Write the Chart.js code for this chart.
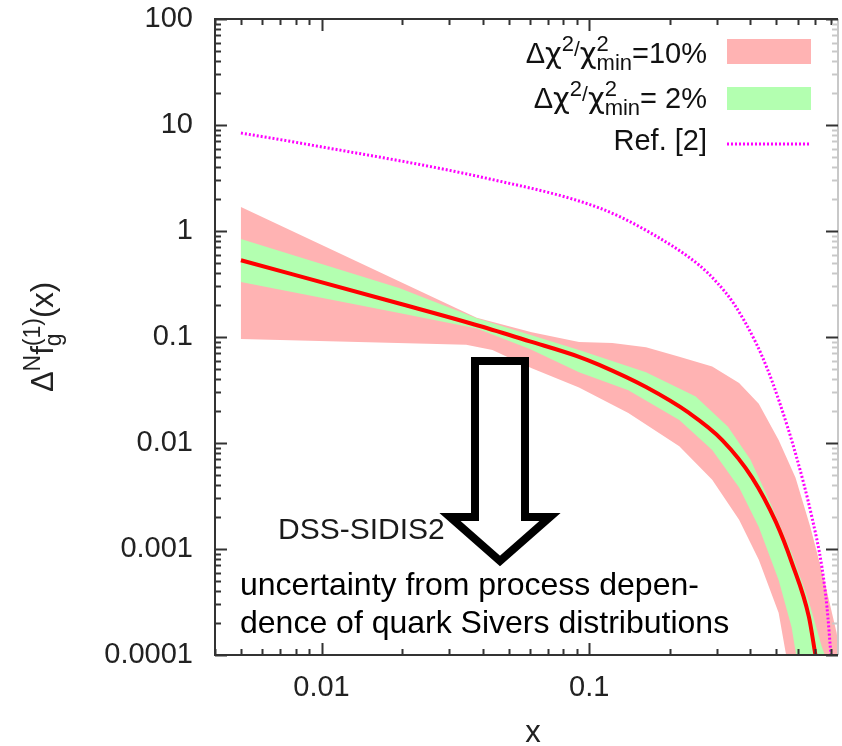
<!DOCTYPE html>
<html>
<head>
<meta charset="utf-8">
<script src="https://cdn.jsdelivr.net/npm/chart.js@4.4.0/dist/chart.umd.min.js"></script>
<style>
  html, body { margin: 0; padding: 0; background: #fff; }
  #wrap { width: 842px; height: 746px; }
</style>
</head>
<body>
<div id="wrap"><canvas id="grafico" width="842" height="746"></canvas></div>
<script>
// ---- Dados ----
// curva central (linha vermelha)
const xCentral = [0.005, 0.0195, 0.039, 0.06, 0.0916, 0.109, 0.163, 0.236, 0.314, 0.406, 0.498, 0.572, 0.662, 0.70];
const yCentral = [0.53, 0.207, 0.127, 0.091, 0.065, 0.0545, 0.0337, 0.0192, 0.01066, 0.00472, 0.0018, 0.000738, 0.000228, 0.0001];

// banda 2% (verde)
const xVerdeSup = [0.005, 0.0195, 0.038, 0.06, 0.0916, 0.163, 0.25, 0.33, 0.4, 0.47, 0.57, 0.66, 0.74, 0.77];
const yVerdeSup = [0.84, 0.29, 0.15, 0.105, 0.0755, 0.0465, 0.0274, 0.0142, 0.007, 0.0029, 0.00092, 0.000327, 0.000119, 0.00009];
const xVerdeInf = [0.005, 0.0195, 0.038, 0.06, 0.0916, 0.14, 0.217, 0.288, 0.363, 0.43, 0.51, 0.57, 0.597];
const yVerdeInf = [0.33, 0.168, 0.12, 0.077, 0.0465, 0.0315, 0.0165, 0.0086, 0.0038, 0.00161, 0.00051, 0.000184, 0.00009];

// banda 10% (rosa)
const xRosaSup = [0.005, 0.038, 0.061, 0.0916, 0.122, 0.163, 0.217, 0.288, 0.363, 0.43, 0.51, 0.59, 0.67, 0.76, 0.84, 0.87];
const yRosaSup = [1.68, 0.152, 0.111, 0.0897, 0.0877, 0.08, 0.065, 0.0527, 0.0368, 0.0235, 0.0107, 0.0047, 0.00161, 0.000475, 0.000162, 0.00009];
const xRosaInf = [0.005, 0.0347, 0.0435, 0.061, 0.0916, 0.14, 0.217, 0.288, 0.363, 0.43, 0.51, 0.548];
const yRosaInf = [0.0957, 0.0845, 0.0755, 0.0508, 0.0333, 0.0192, 0.0093, 0.0045, 0.00189, 0.00079, 0.00025, 0.00009];

// Ref. [2] (magenta pontilhado)
const xRef = [0.005, 0.0083, 0.0424, 0.109, 0.167, 0.257, 0.300, 0.3475, 0.42, 0.4615, 0.512, 0.592, 0.679, 0.74, 0.773, 0.80];
const yRef = [8.4, 6.76, 3.1, 1.65, 0.98, 0.478, 0.327, 0.205, 0.0877, 0.051, 0.0249, 0.0077, 0.002, 0.000676, 0.000284, 0.0001];

// eixos
const valoresX = [0.01, 0.1];
const rotulosX = ['0.01', '0.1'];
const valoresY = [0.0001, 0.001, 0.01, 0.1, 1, 10, 100];
const rotulosY = ['0.0001', '0.001', '0.01', '0.1', '1', '10', '100'];

const FAMILIA = "'Liberation Sans', Arial, Helvetica, sans-serif";
const GREGO = "'DejaVu Sans', 'Liberation Sans', sans-serif";
const fonte = (s, fam) => s + 'px ' + (fam || FAMILIA);

function pontos(xs, ys) {
  return xs.map((x, i) => ({ x: x, y: ys[i] }));
}
// contorno fechado: limite superior e depois o inferior ao contrário
function contorno(xs1, ys1, xs2, ys2) {
  return pontos(xs1, ys1).concat(pontos(xs2, ys2).reverse());
}

// texto com sobrescritos / subscritos
function larguraRuns(ctx, runs) {
  let w = 0;
  runs.forEach(r => {
    ctx.font = fonte(r.s, r.f);
    if (r.pilha) w += Math.max(ctx.measureText(r.sup).width, ctx.measureText(r.sub).width);
    else w += ctx.measureText(r.t).width;
  });
  return w;
}
function desenhaRuns(ctx, runs, x, y) {
  runs.forEach(r => {
    ctx.font = fonte(r.s, r.f);
    if (r.pilha) {
      ctx.fillText(r.sup, x, y + r.dySup);
      ctx.fillText(r.sub, x, y + r.dySub);
      x += Math.max(ctx.measureText(r.sup).width, ctx.measureText(r.sub).width);
    } else {
      ctx.fillText(r.t, x, y + (r.dy || 0));
      x += ctx.measureText(r.t).width;
    }
  });
}

function legendaChi(pct) {
  return [
    { t: 'Δ', s: 29 },
    { t: 'χ', s: 29, f: GREGO },
    { t: '2', s: 22, dy: -12 },
    { t: '/', s: 21, dy: -7 },
    { t: 'χ', s: 29, f: GREGO },
    { pilha: true, sup: '2', sub: 'min', s: 22, dySup: -12, dySub: 7 },
    { t: pct, s: 29 }
  ];
}

// ---- Plugin: moldura, marcas, legenda, anotações ----
const decoracoes = {
  id: 'decoracoes',
  afterDraw(chart) {
    const ctx = chart.ctx;
    const a = chart.chartArea;
    const sx = chart.scales.x, sy = chart.scales.y;
    ctx.save();

    // seta (anotação)
    ctx.lineWidth = 8;
    ctx.lineJoin = 'miter';
    ctx.strokeStyle = '#000';
    ctx.fillStyle = '#fff';
    const cx = 500, topo = 361, ombro = 517, ponta = 561;
    ctx.beginPath();
    ctx.moveTo(cx - 25, topo);
    ctx.lineTo(cx + 25, topo);
    ctx.lineTo(cx + 25, ombro);
    ctx.lineTo(cx + 50, ombro);
    ctx.lineTo(cx, ponta);
    ctx.lineTo(cx - 50, ombro);
    ctx.lineTo(cx - 25, ombro);
    ctx.closePath();
    ctx.fill();
    ctx.stroke();

    // textos da anotação
    ctx.fillStyle = '#1a1a1a';
    ctx.textAlign = 'left';
    ctx.textBaseline = 'alphabetic';
    ctx.font = fonte(30);
    ctx.fillText('DSS-SIDIS2', 278, 539);
    ctx.fillStyle = '#000';
    ctx.font = fonte(32);
    ctx.fillText('uncertainty from process depen-', 240, 595);
    ctx.fillText('dence of quark Sivers distributions', 240, 633);

    // moldura
    ctx.lineWidth = 2;
    ctx.strokeStyle = '#c8c8c8';
    ctx.beginPath();
    ctx.moveTo(a.right, a.top); ctx.lineTo(a.right, a.bottom);
    ctx.stroke();
    ctx.strokeStyle = '#333';
    ctx.beginPath();
    ctx.moveTo(a.right, a.top); ctx.lineTo(a.left, a.top);
    ctx.lineTo(a.left, a.bottom); ctx.lineTo(a.right, a.bottom);
    ctx.stroke();

    // marcas (dentro da moldura)
    ctx.lineWidth = 2;
    const marcasX = [], marcasY = [];
    [0.001, 0.01, 0.1].forEach(d => {
      for (let k = 1; k <= 9; k++) {
        const v = k * d;
        if (v >= sx.min && v <= sx.max) marcasX.push([v, k === 1]);
      }
    });
    [0.0001, 0.001, 0.01, 0.1, 1, 10].forEach(d => {
      for (let k = 1; k <= 9; k++) marcasY.push([k * d, k === 1]);
    });
    marcasY.push([100, true]);
    marcasX.forEach(([v, maior]) => {
      const px = Math.round(sx.getPixelForValue(v)) + 0.5;
      const l = maior ? 12 : 6;
      ctx.strokeStyle = '#333';
      ctx.beginPath();
      ctx.moveTo(px, a.bottom); ctx.lineTo(px, a.bottom - l);
      ctx.moveTo(px, a.top); ctx.lineTo(px, a.top + l);
      ctx.stroke();
    });
    marcasY.forEach(([v, maior]) => {
      const py = Math.round(sy.getPixelForValue(v)) + 0.5;
      const l = maior ? 12 : 6;
      ctx.strokeStyle = '#333';
      ctx.beginPath();
      ctx.moveTo(a.left, py); ctx.lineTo(a.left + l, py);
      ctx.stroke();
      ctx.strokeStyle = maior ? '#333' : '#c8c8c8';
      ctx.beginPath();
      ctx.moveTo(a.right, py); ctx.lineTo(a.right - l, py);
      ctx.stroke();
    });

    // legenda
    ctx.fillStyle = '#111';
    const dirLeg = 707;
    const r1 = legendaChi('=10%');
    desenhaRuns(ctx, r1, dirLeg - larguraRuns(ctx, r1), 63);
    const r2 = legendaChi('= 2%');
    desenhaRuns(ctx, r2, dirLeg - larguraRuns(ctx, r2), 108);
    ctx.font = fonte(29);
    ctx.textAlign = 'right';
    ctx.fillText('Ref. [2]', dirLeg, 150);
    ctx.fillStyle = '#ffb3b3';
    ctx.fillRect(727, 39, 84, 25);
    ctx.fillStyle = '#b3ffb0';
    ctx.fillRect(727, 87, 84, 23);
    ctx.strokeStyle = '#ff00ff';
    ctx.lineWidth = 3;
    ctx.setLineDash([2, 2]);
    ctx.beginPath();
    ctx.moveTo(727, 144); ctx.lineTo(810, 144);
    ctx.stroke();
    ctx.setLineDash([]);

    // títulos dos eixos
    ctx.fillStyle = '#222';
    ctx.textAlign = 'center';
    ctx.font = fonte(31);
    ctx.fillText('x', 533, 742);

    ctx.textAlign = 'left';
    const tituloY = [
      { t: 'Δ', s: 31 },
      { t: 'N', s: 23, dy: -13 },
      { t: 'f', s: 31 },
      { pilha: true, sup: '(1)', sub: 'g', s: 23, dySup: -13, dySub: 8 },
      { t: '(x)', s: 31 }
    ];
    const wy = larguraRuns(ctx, tituloY);
    ctx.translate(53, 337);
    ctx.rotate(-Math.PI / 2);
    desenhaRuns(ctx, tituloY, -wy / 2, 0);
    ctx.restore();
  }
};

// anula a margem automática dos rótulos, para a área do gráfico ficar fixa
function semMargens(s) {
  s.paddingTop = 0; s.paddingBottom = 0; s.paddingLeft = 0; s.paddingRight = 0;
}

const ctx = document.getElementById('grafico').getContext('2d');

const config = {
  type: 'line',
  data: {
    datasets: [
      {
        label: 'Ref. [2]',
        data: pontos(xRef, yRef),
        borderColor: '#ff00ff',
        borderWidth: 3,
        borderDash: [2, 2],
        pointRadius: 0,
        fill: false,
        cubicInterpolationMode: 'monotone',
        order: 0
      },
      {
        label: 'central',
        data: pontos(xCentral, yCentral),
        borderColor: '#ff0000',
        borderWidth: 4,
        pointRadius: 0,
        fill: false,
        cubicInterpolationMode: 'monotone',
        order: 1
      },
      {
        label: '2%',
        data: contorno(xVerdeSup, yVerdeSup, xVerdeInf, yVerdeInf),
        backgroundColor: '#b3ffb0',
        borderWidth: 0,
        pointRadius: 0,
        tension: 0,
        fill: 'shape',
        order: 2
      },
      {
        label: '10%',
        data: contorno(xRosaSup, yRosaSup, xRosaInf, yRosaInf),
        backgroundColor: '#ffb3b3',
        borderWidth: 0,
        pointRadius: 0,
        tension: 0,
        fill: 'shape',
        order: 3
      }
    ]
  },
  options: {
    responsive: false,
    animation: false,
    devicePixelRatio: 1,
    events: [],
    layout: { padding: { left: 0, right: 4, top: 19, bottom: 0 }, autoPadding: false },
    plugins: { legend: { display: false }, tooltip: { enabled: false } },
    scales: {
      x: {
        type: 'logarithmic',
        min: 0.004,
        max: 0.85,
        grid: { display: false, drawTicks: false },
        border: { display: false },
        afterBuildTicks: (s) => { s.ticks = valoresX.map(v => ({ value: v })); },
        afterFit: (s) => { s.height = 91; semMargens(s); },
        ticks: {
          autoSkip: false,
          maxRotation: 0,
          padding: 16,
          color: '#222',
          font: { family: FAMILIA, size: 29 },
          callback: (v, i) => rotulosX[i]
        }
      },
      y: {
        type: 'logarithmic',
        min: 0.0001,
        max: 100,
        grid: { display: false, drawTicks: false },
        border: { display: false },
        afterBuildTicks: (s) => { s.ticks = valoresY.map(v => ({ value: v })); },
        afterFit: (s) => { s.width = 215; semMargens(s); },
        ticks: {
          autoSkip: false,
          padding: 22,
          color: '#222',
          font: { family: FAMILIA, size: 29 },
          callback: (v, i) => rotulosY[i]
        }
      }
    }
  },
  plugins: [decoracoes]
};

const grafico = new Chart(ctx, config);
</script>
</body>
</html>
